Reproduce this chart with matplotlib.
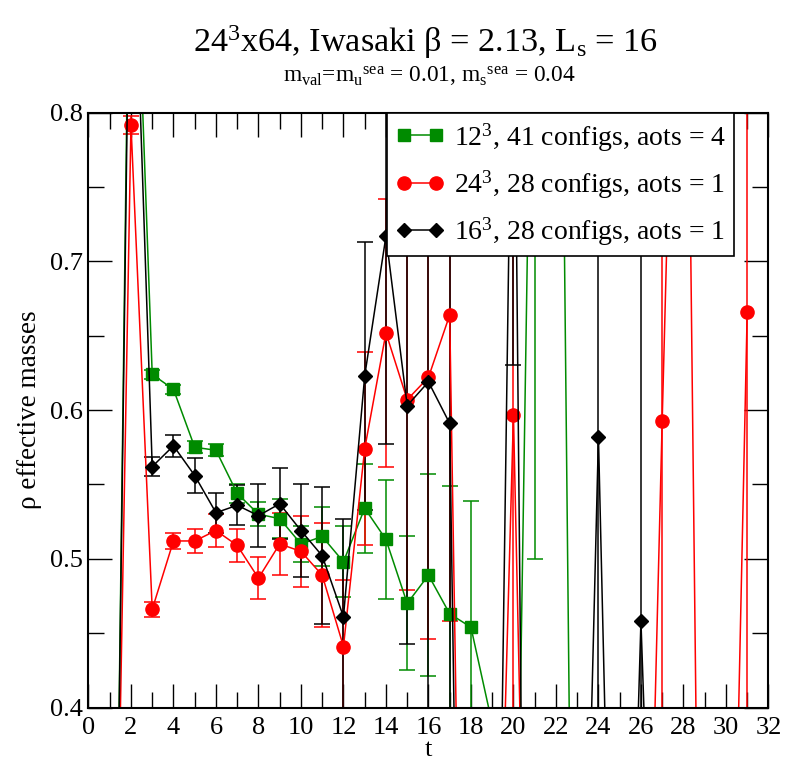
import matplotlib
matplotlib.use('Agg')
import matplotlib.pyplot as plt
import matplotlib.ticker as mticker
from matplotlib.lines import Line2D
import numpy as np

plt.rcParams['font.family'] = ['Liberation Serif', 'DejaVu Serif']
plt.rcParams['mathtext.fontset'] = 'custom'
plt.rcParams['mathtext.rm'] = 'Liberation Serif'
plt.rcParams['mathtext.it'] = 'Liberation Serif'
plt.rcParams['mathtext.default'] = 'regular'

# ---------------- data ----------------
green_t = np.arange(1, 24)
green_val = [-0.09, 1.02, 0.624, 0.614, 0.575, 0.573, 0.544, 0.530, 0.527, 0.510,
             0.515, 0.498, 0.534, 0.513, 0.470, 0.489, 0.463, 0.454, 0.389, 0.11,
             1.02, 1.26, -0.12]
green_err = [0, 0, 0.003, 0.003, 0.004, 0.004, 0.0065, 0.008, 0.013, 0.012,
             0.020, 0.024, 0.030, 0.040, 0.045, 0.068, 0.086, 0.085, 0, 0,
             0.52, 0, 0]

red_t = np.arange(1, 32)
red_val = [0.0, 0.792, 0.466, 0.512, 0.512, 0.519, 0.509, 0.487, 0.510, 0.505,
           0.489, 0.441, 0.574, 0.652, 0.607, 0.622, 0.664, -0.22, 0.08, 0.597,
           -0.06, 0.2, 0.2, 0.2, 0.2, 0.02, 0.593, 1.14, -0.12, 0.0,
           0.666]
red_err = [0, 0.006, 0.005, 0.0055, 0.008, 0.011, 0.011, 0.014, 0.021, 0.024,
           0.035, 0.045, 0.065, 0.090, 0.128, 0.176, 0.206, 0, 0, 0.4,
           0, 0, 0, 0, 0, 0, 0.3, 0, 0, 0,
           0.5]

black_t = np.arange(1, 28)
black_val = [-0.08, 0.99, 0.562, 0.576, 0.556, 0.531, 0.536, 0.529, 0.537, 0.519,
             0.502, 0.461, 0.623, 0.717, 0.603, 0.619, 0.591, -0.36, -0.08, 0.93,
             -0.56, -0.2, 0.01, 0.582, -0.03, 0.458, 0.04]
black_err = [0, 0, 0.0066, 0.0073, 0.012, 0.0135, 0.0135, 0.021, 0.024, 0.031,
             0.046, 0.066, 0.090, 0.140, 0.160, 0.30, 0.30, 0, 0, 0.30,
             0, 0, 0, 0.5, 0, 0.4, 0]

labels = [r'12$^{3}$, 41 configs, aots = 4',
          r'24$^{3}$, 28 configs, aots = 1',
          r'16$^{3}$, 28 configs, aots = 1']

GREEN = '#008b00'

# ---------------- figure ----------------
fig = plt.figure(figsize=(7.85, 7.61), dpi=100)
ax = fig.add_axes([0.1127, 0.0703, 0.8662, 0.7816])

series = [
    (green_t, green_val, green_err, GREEN, 's', 8.5),
    (red_t, red_val, red_err, 'red', 'o', 9.5),
    (black_t, black_val, black_err, 'black', 'D', 7.0),
]
handles = []
for t, v, e, col, mk, ms in series:
    ax.errorbar(t, v, yerr=e, color=col, marker=mk, markersize=ms,
                linewidth=1.1, elinewidth=1.1, capsize=6, capthick=1.1)
    handles.append(Line2D([0], [0], color=col, marker=mk, markersize=ms,
                          linewidth=1.1))

ax.set_xlim(0, 32)
ax.set_ylim(0.4, 0.8)
ax.xaxis.set_major_locator(mticker.MultipleLocator(2))
ax.xaxis.set_minor_locator(mticker.MultipleLocator(1))
ax.yaxis.set_major_locator(mticker.MultipleLocator(0.1))
ax.yaxis.set_minor_locator(mticker.MultipleLocator(0.05))
ax.yaxis.set_major_formatter(mticker.FormatStrFormatter('%.1f'))
ax.tick_params(which='both', direction='in', top=True, right=True,
               width=1.0, labelsize=19)
ax.tick_params(which='major', length=17)
ax.tick_params(which='minor', length=11.5)
ax.tick_params(axis='x', which='major', pad=6.5)
ax.tick_params(axis='y', which='major', pad=4)
for sp in ax.spines.values():
    sp.set_linewidth(1.5)

ax.set_xlabel('t', fontsize=19, labelpad=0)
ax.set_ylabel('ρ effective masses', fontsize=19.5, labelpad=6)

leg = ax.legend(handles, labels, loc='upper left', bbox_to_anchor=(0.439, 1.0),
                borderaxespad=0, numpoints=2,
                fontsize=20, fancybox=False, framealpha=1, edgecolor='black',
                handlelength=1.75, handletextpad=0.35, labelspacing=0.53,
                borderpad=0.3)
leg.get_frame().set_linewidth(1.2)

fig.text(0.542, 0.932, r'24$^{3}$x64, Iwasaki β = 2.13, L$_{s}$ = 16',
         ha='center', va='baseline', fontsize=24.7)
fig.text(0.547, 0.892, r'm$_{val}$=m$_{u}$$^{sea}$ = 0.01, m$_{s}$$^{sea}$ = 0.04',
         ha='center', va='baseline', fontsize=16.8)

fig.savefig('out.png', dpi=100)
